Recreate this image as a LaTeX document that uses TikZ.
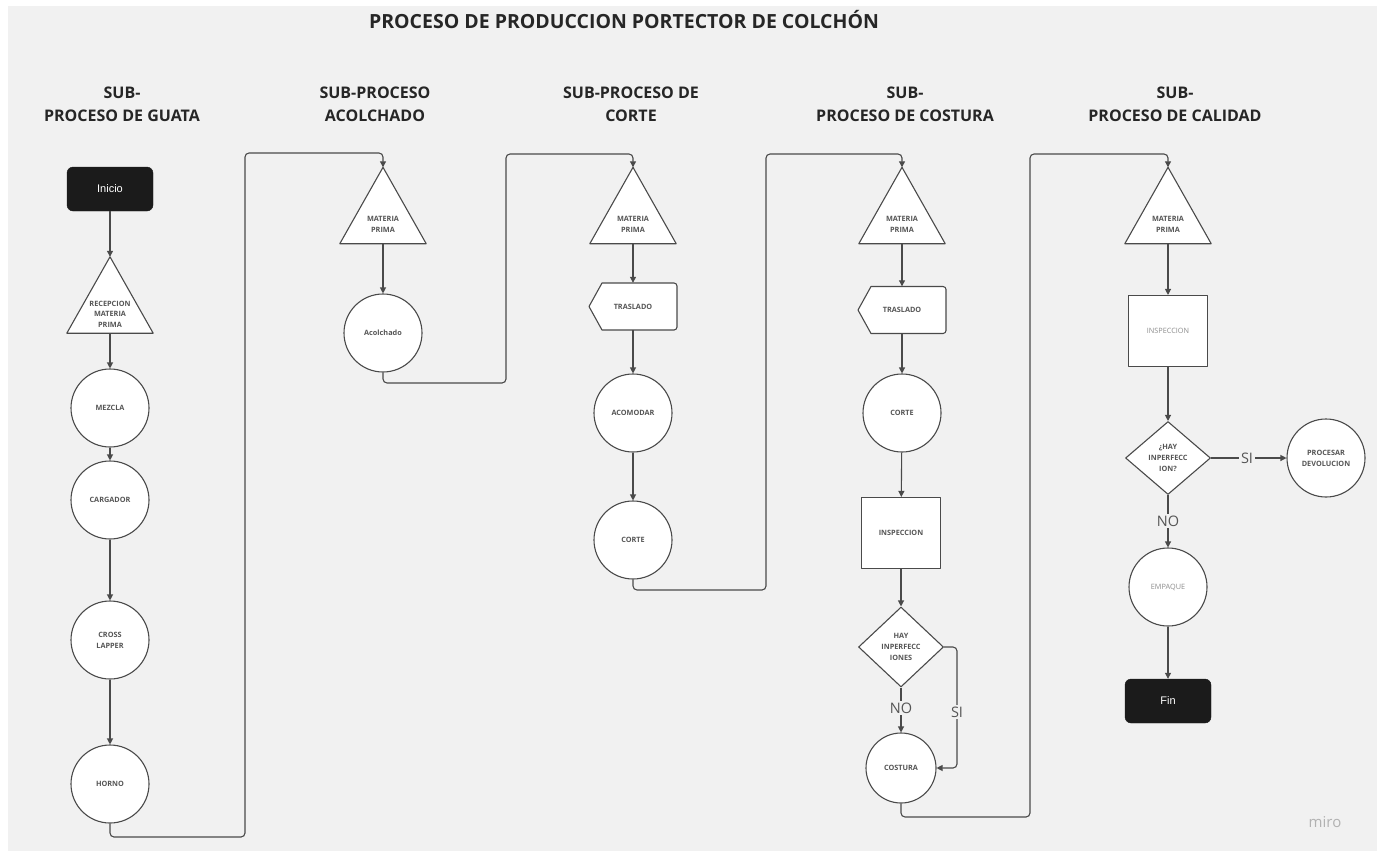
\documentclass[tikz,border=0pt]{standalone}
\usepackage{fontspec}
\setmainfont{Open Sans}
\newfontfamily\termfont{Liberation Sans}
\usetikzlibrary{arrows.meta,shapes.geometric}

\definecolor{canvas}{HTML}{F1F1F1}
\definecolor{ink}{HTML}{4A4A4A}
\definecolor{txt}{HTML}{555555}
\definecolor{soft}{HTML}{8C8C8C}
\definecolor{termfill}{HTML}{1B1B1B}

\tikzset{
  box/.style={draw=ink, line width=1.1pt, fill=white, line join=round},
  small/.style={font=\fontsize{7.3}{10.8}\selectfont\bfseries, text=txt, align=center},
  circ/.style={box, circle, minimum size=78pt, inner sep=0pt, small},
  sqbox/.style={box, minimum width=79pt, minimum height=71pt, inner sep=0pt, small},
  diam/.style={box, diamond, minimum width=85pt, minimum height=80pt, inner sep=0pt, small},
  frame/.style={minimum width=86pt, minimum height=76pt, inner sep=0pt},
  flat/.style={minimum width=88pt, minimum height=47pt, inner sep=0pt, small},
  lite/.style={font=\fontsize{7.3}{10.8}\selectfont, text=soft},
  terminal/.style={fill=termfill, draw=termfill, rounded corners=6pt, minimum width=86pt,
    minimum height=44pt, text=white, font=\termfont\fontsize{11}{13}\selectfont},
  flow/.style={draw=ink, line width=1.1pt, rounded corners=4pt, -{Triangle[length=6pt,width=6pt]}},
  cond/.style={fill=canvas, inner sep=2pt, font=\fontsize{14.5}{16}\selectfont, text=txt},
  head/.style={font=\fontsize{16}{23}\selectfont\bfseries, text=black!85, align=center},
}

% material-input triangle: name, centre, text
\newcommand\inputtri[3]{%
  \node[frame] (#1) at (#2) {};
  \draw[box] (#1.north) -- (#1.south east) -- (#1.south west) -- cycle;
  \node[small] (#1-t) at ([yshift=19pt]#1.south) {#3};
}
% transport box with a pointed left side: name, centre, text
\newcommand\movebox[3]{%
  \draw[box] (#2) ++(-31,-23.5) [rounded corners=3pt] -- ++(75,0) -- ++(0,47)
    [sharp corners] -- ++(-75,0) -- ++(-13,-23.5) -- cycle;
  \node[flat] (#1) at (#2) {#3};
}

\begin{document}
\begin{tikzpicture}[x=1pt,y=-1pt]
\useasboundingbox (0,0) rectangle (1383,854);
\fill[white] (0,0) rectangle (1383,854);
\fill[canvas] (8,6) rectangle (1377,851);

% titles
\node[font=\fontsize{19.5}{22}\selectfont\bfseries, text=black!85] (title) at (624,20)
  {PROCESO DE PRODUCCION PORTECTOR DE COLCHÓN};
\node[head] (h1) at (122,104.5) {SUB-\\PROCESO DE GUATA};
\node[head] (h2) at (375,104.5) {SUB-PROCESO\\ACOLCHADO};
\node[head] (h3) at (631,104.5) {SUB-PROCESO DE\\CORTE};
\node[head] (h4) at (905,104.5) {SUB-\\PROCESO DE COSTURA};
\node[head] (h5) at (1175,104.5) {SUB-\\PROCESO DE CALIDAD};

% guata
\node[terminal] (inicio) at (110,189) {Inicio};
\inputtri{t1}{110,295}{RECEPCION\\MATERIA\\PRIMA}
\node[circ] (mezcla) at (110,408) {MEZCLA};
\node[circ] (cargador) at (110,500) {CARGADOR};
\node[circ] (cross) at (110,640) {CROSS\\LAPPER};
\node[circ] (horno) at (110,784) {HORNO};

% acolchado
\inputtri{t2}{383,205.5}{MATERIA\\PRIMA}
\node[circ] (acolchado) at (383,333) {Acolchado};

% corte
\inputtri{t3}{633,205.5}{MATERIA\\PRIMA}
\movebox{tr3}{633,306.5}{TRASLADO}
\node[circ] (acomodar) at (633,413) {ACOMODAR};
\node[circ] (corte3) at (633,540) {CORTE};

% costura
\inputtri{t4}{902,205.5}{MATERIA\\PRIMA}
\movebox{tr4}{902,310}{TRASLADO}
\node[circ] (corte4) at (902,413) {CORTE};
\node[sqbox] (insp4) at (901,533) {INSPECCION};
\node[diam] (d1) at (901,647) {HAY\\INPERFECC\\IONES};
\node[circ, minimum size=70pt] (costura) at (901,768) {COSTURA};

% calidad
\inputtri{t5}{1168,205.5}{MATERIA\\PRIMA}
\node[sqbox, lite] (insp5) at (1168,331) {INSPECCION};
\node[diam, minimum height=73pt] (d2) at (1168,458) {¿HAY\\INPERFECC\\ION?};
\node[circ] (procesar) at (1326,458) {PROCESAR\\DEVOLUCION};
\node[circ, lite] (empaque) at (1168,587) {EMPAQUE};
\node[terminal] (fin) at (1168,701) {Fin};

% turning points of the links between columns
\coordinate (b1) at (245,837);   \coordinate (top2) at (383,153);
\coordinate (b2) at (506,383);   \coordinate (top3) at (633,154);
\coordinate (b3) at (766,590);   \coordinate (top4) at (902,154);
\coordinate (b4) at (1030,817);  \coordinate (top5) at (1168,154);
\coordinate (siturn) at (957,712);

% connectors
\draw[flow] (inicio) -- (t1.north);
\draw[flow] (t1.south) -- (mezcla);
\draw[flow] (mezcla) -- (cargador);
\draw[flow] (cargador) -- (cross);
\draw[flow] (cross) -- (horno);
\draw[flow] (horno.south) |- (b1) |- (top2) -- (t2.north);

\draw[flow] (t2.south) -- (acolchado);
\draw[flow] (acolchado.south) |- (b2) |- (top3) -- (t3.north);

\draw[flow] (t3.south) -- (tr3);
\draw[flow] (tr3) -- (acomodar);
\draw[flow] (acomodar) -- (corte3);
\draw[flow] (corte3.south) |- (b3) |- (top4) -- (t4.north);

\draw[flow] (t4.south) -- (tr4);
\draw[flow] (tr4) -- (corte4);
\draw[flow] (corte4) -- (insp4);
\draw[flow] (insp4) -- (d1);
\draw[flow] (d1.south) -- (costura.north);
\draw[flow] (d1.east) -| (siturn) |- (costura.east);
\node[cond] (no1) at (901,708) {NO};
\node[cond] (si1) at (957,712) {SI};
\draw[flow] (costura.south) |- (b4) |- (top5) -- (t5.north);

\draw[flow] (t5.south) -- (insp5);
\draw[flow] (insp5) -- (d2);
\draw[flow] (d2.east) -- (procesar.west);
\node[cond] (si2) at (1247,458) {SI};
\draw[flow] (d2.south) -- (empaque.north);
\node[cond] (no2) at (1168,521) {NO};
\draw[flow] (empaque) -- (fin);

\node[font=\fontsize{15}{18}\selectfont, text=black!30] (miro) at (1325,822) {miro};
\end{tikzpicture}
\end{document}
